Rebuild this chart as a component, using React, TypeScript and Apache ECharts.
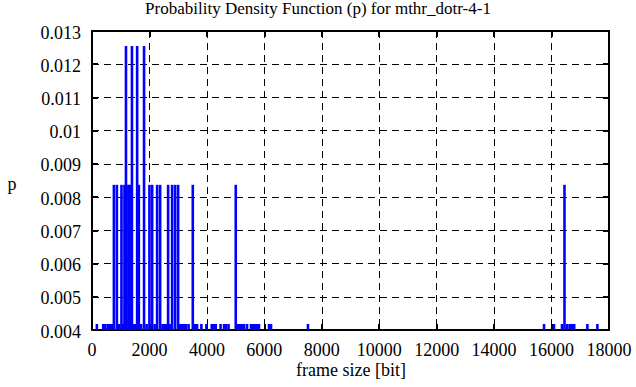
import React, { useEffect, useRef } from "react";
import * as echarts from "echarts";

const chartTitle = "Probability Density Function (p) for mthr_dotr-4-1";
const xAxisName = "frame size [bit]";
const yAxisName = "p";

// frame sizes [bit] observed once, twice and three times
const frameSizesP1 = [
  170, 390, 459, 546, 616, 685, 946, 1085, 1450, 1503, 1711, 1902, 2181, 2459,
  2528, 2581, 2720, 3068, 3137, 3207, 3269, 3363, 3589, 3659, 3808, 3982, 4170,
  4240, 4309, 4476, 4598, 4668, 4754, 5085, 5155, 5224, 5294, 5398, 5537, 5607,
  5676, 5746, 5815, 6163, 6233, 7519, 15738, 16086, 16364, 16545, 16632, 16719,
  16788, 17247, 17595,
];
const frameSizesP2 = [
  762, 866, 1026, 1130, 1266, 1322, 1631, 2000, 2094, 2268, 2372, 2650, 2789,
  2894, 2998, 3509, 5005, 16450,
];
const frameSizesP3 = [1183, 1391, 1572, 1812];
const probabilityLevels = [0.00418, 0.00837, 0.01255];

// tick labels
const xTickValues = [0, 2000, 4000, 6000, 8000, 10000, 12000, 14000, 16000, 18000];
const yTickValues = [0.004, 0.005, 0.006, 0.007, 0.008, 0.009, 0.01, 0.011, 0.012, 0.013];

const xMin = 0;
const xMax = 18000;
const xStep = 2000;
const yMin = 0.004;
const yMax = 0.013;
const yStep = 0.001;

const TEXT_FONT = '"Liberation Serif", serif';

export default function App() {
  const ref = useRef<HTMLDivElement>(null);
  useEffect(() => {
    const chart = echarts.init(ref.current!, null, { renderer: "svg" });
    const data = [
      ...frameSizesP1.map((x) => [x, probabilityLevels[0]]),
      ...frameSizesP2.map((x) => [x, probabilityLevels[1]]),
      ...frameSizesP3.map((x) => [x, probabilityLevels[2]]),
    ];
    const border = { show: true, onZero: false, lineStyle: { color: "#000", width: 2 } };
    const tick = { show: true, inside: true, length: 6, lineStyle: { color: "#000", width: 2 } };
    const grid = { show: true, lineStyle: { color: "#000", width: 1, type: [7, 5] } };
    chart.setOption({
      animation: false,
      backgroundColor: "#fff",
      grid: { left: 92, right: 27, top: 31, bottom: 57, containLabel: false },
      xAxis: [
        {
          type: "value", min: xMin, max: xMax, interval: xStep, position: "bottom",
          axisLine: border, axisTick: tick, axisLabel: { show: false }, splitLine: grid,
        },
        {
          type: "value", min: xMin, max: xMax, interval: xStep, position: "top",
          axisLine: border, axisTick: tick, axisLabel: { show: false }, splitLine: { show: false },
        },
      ],
      yAxis: [
        {
          type: "value", min: yMin, max: yMax, interval: yStep, position: "left",
          axisLine: border, axisTick: tick, axisLabel: { show: false }, splitLine: grid,
        },
        {
          type: "value", min: yMin, max: yMax, interval: yStep, position: "right",
          axisLine: border, axisTick: tick, axisLabel: { show: false }, splitLine: { show: false },
        },
      ],
      series: [
        {
          type: "bar",
          xAxisIndex: 0,
          yAxisIndex: 0,
          data,
          barWidth: 2.6,
          clip: true,
          itemStyle: { color: "#0000ff" },
        },
      ],
    });

    const x0 = chart.convertToPixel({ xAxisIndex: 0 }, xMin) as number;
    const y0 = chart.convertToPixel({ yAxisIndex: 0 }, yMin) as number;
    const tickTexts: any[] = [];
    xTickValues.forEach((v) => {
      tickTexts.push({
        type: "text",
        x: chart.convertToPixel({ xAxisIndex: 0 }, v) as number,
        y: y0 + 11,
        silent: true,
        style: { text: String(v), fill: "#000", font: `18px ${TEXT_FONT}`, align: "center", verticalAlign: "top" },
      });
    });
    yTickValues.forEach((v) => {
      tickTexts.push({
        type: "text",
        x: x0 - 11,
        y: (chart.convertToPixel({ yAxisIndex: 0 }, v) as number) + 1.5,
        silent: true,
        style: { text: String(v), fill: "#000", font: `18px ${TEXT_FONT}`, align: "right", verticalAlign: "middle" },
      });
    });

    chart.setOption({
      graphic: [
        {
          type: "text", left: "center", top: 0,
          style: { text: chartTitle, fill: "#000", font: `17px ${TEXT_FONT}` },
        },
        {
          type: "text", x: 351, y: 370,
          style: { text: xAxisName, fill: "#000", font: `18px ${TEXT_FONT}`, align: "center", verticalAlign: "middle" },
        },
        {
          type: "text", x: 12, y: 184,
          style: { text: yAxisName, fill: "#000", font: `18px ${TEXT_FONT}`, align: "center", verticalAlign: "middle" },
        },
        ...tickTexts,
      ],
    });
    return () => chart.dispose();
  }, []);
  return (
    <div
      ref={ref}
      style={{ position: "absolute", left: 0, top: 0, width: 636, height: 387 }}
    />
  );
}
